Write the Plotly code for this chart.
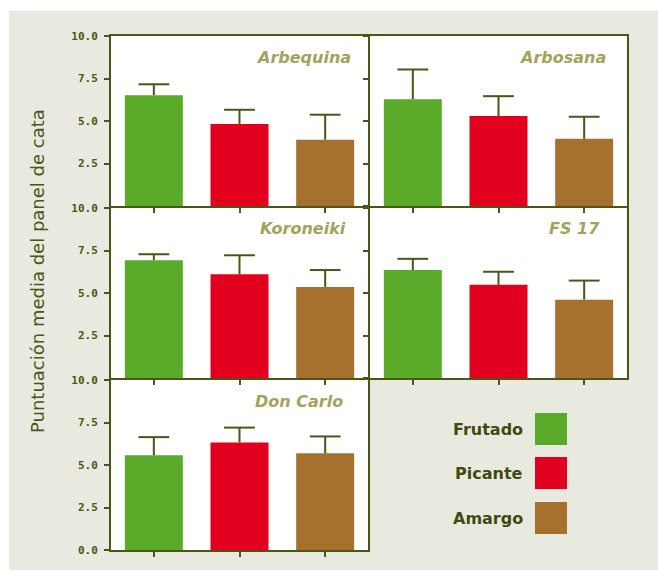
import plotly.graph_objects as go

# Tasting-panel scores (mean and standard deviation) per cultivar
cultivars = ["Arbequina", "Arbosana", "Koroneiki", "FS 17", "Don Carlo"]
attributes = ["Frutado", "Picante", "Amargo"]
means = [
    [6.52, 4.83, 3.90],
    [6.28, 5.29, 3.95],
    [6.93, 6.10, 5.36],
    [6.35, 5.48, 4.61],
    [5.57, 6.33, 5.69],
]
sds = [
    [0.64, 0.83, 1.47],
    [1.75, 1.17, 1.30],
    [0.35, 1.12, 0.99],
    [0.66, 0.77, 1.12],
    [1.07, 0.87, 0.99],
]
y_ticks = [0.0, 2.5, 5.0, 7.5, 10.0]

colors = ["#59ab29", "#e2001e", "#a6712e"]
axis_col = "#4b5516"
title_col = "#a3a35c"
bg_col = "#e9eadf"

W, H = 658, 570
lw = 2          # frame line width
cell_w, cell_h = 257, 170
ml, mt = 111, 36
pw = 2 * cell_w + lw
ph = 3 * cell_h + 2 * lw
mr, mb = W - ml - pw, H - mt - ph

# panel grid: (row from top, column); neighbouring frames share one line
grid = [(0, 0), (0, 1), (1, 0), (1, 1), (2, 0)]
title_inset = [15, 19, 20, 25, 23]


def x_domain(c):
    x0 = c * (cell_w + lw)
    return [x0 / pw, (x0 + cell_w) / pw]


def y_domain(r):
    top = r * (cell_h + lw)
    return [1 - (top + cell_h) / ph, 1 - top / ph]


def px_to_paper_y(y):
    return (mt + ph - y) / ph


def px_to_paper_x(x):
    return (x - ml) / pw


fig = go.Figure()
layout = {}
annotations = []

for i, (name, (r, c)) in enumerate(zip(cultivars, grid)):
    n = i + 1
    xa = "x" if n == 1 else f"x{n}"
    ya = "y" if n == 1 else f"y{n}"
    fig.add_trace(go.Bar(
        x=attributes, y=means[i], xaxis=xa, yaxis=ya,
        marker=dict(color=colors, line=dict(width=0)),
        width=0.677, showlegend=False,
        error_y=dict(type="data", symmetric=False, array=sds[i],
                     arrayminus=[0] * len(attributes), width=0,
                     thickness=2, color=axis_col),
    ))
    # caps on the upper end of each error bar
    fig.add_trace(go.Scatter(
        x=attributes, y=[m + s for m, s in zip(means[i], sds[i])],
        xaxis=xa, yaxis=ya, mode="markers", showlegend=False,
        hoverinfo="skip",
        marker=dict(symbol="line-ew", size=22, color=axis_col,
                    line=dict(color=axis_col, width=2)),
    ))
    show_labels = c == 0
    tickvals = y_ticks[1:] if (c == 0 and r < 2) else y_ticks
    layout["xaxis" if n == 1 else f"xaxis{n}"] = dict(
        domain=x_domain(c), anchor=ya, range=[-0.5, 2.5],
        showline=True, linecolor=axis_col, linewidth=lw, mirror=True,
        ticks="outside", ticklen=5, tickwidth=2, tickcolor=axis_col,
        showticklabels=False, showgrid=False, zeroline=False, fixedrange=True,
    )
    layout["yaxis" if n == 1 else f"yaxis{n}"] = dict(
        domain=y_domain(r), anchor=xa, range=[0, 10],
        tickvals=tickvals, tickformat=".1f",
        showline=True, linecolor=axis_col, linewidth=lw, mirror=True,
        ticks="outside", ticklen=5, tickwidth=2, tickcolor=axis_col,
        showticklabels=show_labels, ticklabelstandoff=4,
        tickfont=dict(family="DejaVu Sans Mono", size=11, color=axis_col,
                      weight="bold"),
        showgrid=False, zeroline=False, fixedrange=True,
    )
    annotations.append(dict(
        text=name, xref=f"{xa} domain", yref=f"{ya} domain",
        x=1, y=1, xanchor="right", yanchor="middle",
        xshift=-title_inset[i], yshift=-21, showarrow=False,
        font=dict(family="DejaVu Sans", size=16, color=title_col,
                  style="italic", weight=600),
    ))

# y-axis title
annotations.append(dict(
    text="Puntuación media del panel de cata", xref="paper", yref="paper",
    x=px_to_paper_x(37), y=px_to_paper_y(271), xanchor="center",
    yanchor="middle", textangle=-90, showarrow=False,
    font=dict(family="DejaVu Sans", size=18, color=axis_col),
))

# legend: coloured swatches with right-aligned labels
shapes = [
    dict(type="rect", xref="paper", yref="paper", layer="below",
         x0=-1, x1=2, y0=px_to_paper_y(11), y1=2,
         fillcolor="white", line=dict(width=0)),
    dict(type="rect", xref="paper", yref="paper", layer="below",
         x0=-1, x1=px_to_paper_x(9), y0=-1, y1=2,
         fillcolor="white", line=dict(width=0)),
]
leg_top = [413, 457, 502]
for lab, col, top in zip(attributes, colors, leg_top):
    shapes.append(dict(
        type="rect", xref="paper", yref="paper",
        x0=px_to_paper_x(535), x1=px_to_paper_x(567),
        y0=px_to_paper_y(top + 32), y1=px_to_paper_y(top),
        fillcolor=col, line=dict(width=0),
    ))
    annotations.append(dict(
        text=lab, xref="paper", yref="paper",
        x=px_to_paper_x(525), y=px_to_paper_y(top + 16),
        xanchor="right", yanchor="middle", showarrow=False,
        font=dict(family="DejaVu Sans", size=16, color="#3f4a10",
                  weight=600),
    ))

fig.update_layout(
    width=W, height=H,
    margin=dict(l=ml, r=mr, t=mt, b=mb),
    paper_bgcolor=bg_col, plot_bgcolor="white",
    showlegend=False,
    annotations=annotations, shapes=shapes,
    **layout,
)

fig.write_html("out.html")
